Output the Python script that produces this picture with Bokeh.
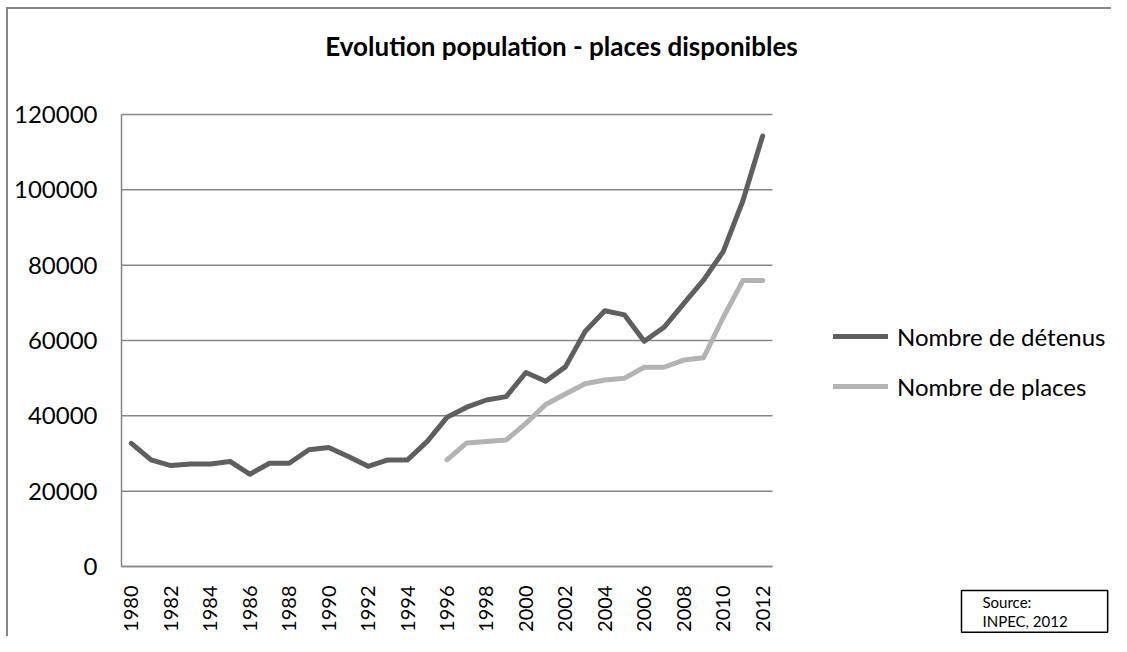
import math
from bokeh.plotting import figure
from bokeh.models import (Legend, LegendItem, FixedTicker, Range1d, Label,
                          NumeralTickFormatter)
from bokeh.embed import file_html
from bokeh.resources import INLINE

# ---- data ----
years = list(range(1980, 2013))
detenus = [32700, 28300, 26800, 27200, 27200, 27900, 24500, 27400, 27400, 31000,
           31600, 29200, 26600, 28300, 28300, 33200, 39600, 42300, 44200, 45100,
           51500, 49200, 53000, 62400, 67900, 66800, 59800, 63500, 69800, 76000,
           83600, 97100, 114300]
places_years = list(range(1996, 2013))
places = [28300, 32800, 33200, 33600, 38000, 43000, 45800, 48500, 49500, 50000,
          52900, 52900, 54800, 55400, 66100, 75900, 75900]
x_ticks = years[::2]
y_ticks = [0, 20000, 40000, 60000, 80000, 100000, 120000]
title_text = "Evolution population - places disponibles"
series_names = ["Nombre de détenus", "Nombre de places"]
source_text = "Source:\nINPEC, 2012"

DARK = "#5f5f5f"
LIGHT = "#b3b3b3"
GRID = "#868686"

# ---- layout (pixels) ----
W, H = 1111, 636
PL, PR, PT, PB = 121, 772, 114, 566   # plot area edges inside the canvas
x_lo, x_hi = years[0] - 0.5, years[-1] + 0.5
y_lo, y_hi = y_ticks[0], y_ticks[-1]
xs = (x_hi - x_lo) / (PR - PL)
ys = (y_hi - y_lo) / (PB - PT)
x_range = Range1d(x_lo - PL * xs, x_hi + (W - PR) * xs)
y_range = Range1d(y_lo - (H - PB) * ys, y_hi + PT * ys)

p = figure(width=W, height=H, output_backend="svg", toolbar_location=None,
           x_range=x_range, y_range=y_range,
           min_border_left=0, min_border_right=0, min_border_top=0,
           min_border_bottom=0)
p.outline_line_color = None
p.background_fill_alpha = 0
p.border_fill_alpha = 0
p.styles = {
    "background-color": "white",
    "background-image": "linear-gradient(#868686, #868686), linear-gradient(#868686, #868686)",
    "background-size": "2px 100%, 100% 2px",
    "background-position": "6px 7px, 6px 7px",
    "background-repeat": "no-repeat",
}
p.xgrid.visible = False
p.ygrid.visible = False

# axes drawn at fixed data locations
xa = p.xaxis[0]
xa.fixed_location = y_lo
xa.bounds = (x_lo, x_hi)
xa.ticker = FixedTicker(ticks=x_ticks)
xa.major_label_orientation = math.pi / 2
xa.major_label_text_font = "Lato"
xa.major_label_text_font_size = "20px"
xa.major_label_text_color = "black"
xa.major_label_standoff = 13
xa.major_tick_line_color = None
xa.minor_tick_line_color = None
xa.axis_line_color = GRID
xa.axis_line_width = 1.5

ya = p.yaxis[0]
ya.fixed_location = x_lo
ya.bounds = (y_lo, y_hi)
ya.ticker = FixedTicker(ticks=y_ticks)
ya.formatter = NumeralTickFormatter(format="0")
ya.major_label_text_font = "Lato"
ya.major_label_text_font_size = "24px"
ya.major_label_text_color = "black"
ya.major_label_standoff = 18
ya.major_tick_line_color = None
ya.minor_tick_line_color = None
ya.axis_line_color = GRID
ya.axis_line_width = 1.5

# horizontal gridlines across the plot area only
p.segment(x0=[x_lo] * len(y_ticks), x1=[x_hi] * len(y_ticks), y0=y_ticks, y1=y_ticks,
          line_color=GRID, line_width=1.5)

r1 = p.line(years, detenus, line_color=DARK, line_width=5, line_join="round", line_cap="round")
r2 = p.line(places_years, places, line_color=LIGHT, line_width=5, line_join="round", line_cap="round")

legend = Legend(items=[LegendItem(label=series_names[0], renderers=[r1]),
                       LegendItem(label=series_names[1], renderers=[r2])],
                location=(833, 235), orientation="vertical",
                glyph_width=55, glyph_height=30, label_height=30, spacing=20,
                label_standoff=9, padding=0, margin=0,
                border_line_alpha=0, background_fill_alpha=0,
                label_text_font="Lato", label_text_font_size="24px",
                label_text_color="black")
p.add_layout(legend, "center")

title = Label(x=561, y=H - 45, x_units="screen", y_units="screen", text=title_text,
              text_align="center", text_baseline="alphabetic",
              text_font="Lato", text_font_style="bold", text_font_size="26px",
              text_color="black")
p.add_layout(title)

src = Label(x=961, y=H - 590, x_units="screen", y_units="screen", text=source_text,
            text_align="left", text_baseline="top", text_font="Lato",
            text_font_size="15px", text_color="black", text_line_height=1.1,
            border_line_color="black", border_line_width=1.5,
            background_fill_color="white",
            padding=dict(left=21, right=40, top=2, bottom=2))
p.add_layout(src)

open("out.html", "w").write(file_html(p, INLINE))
